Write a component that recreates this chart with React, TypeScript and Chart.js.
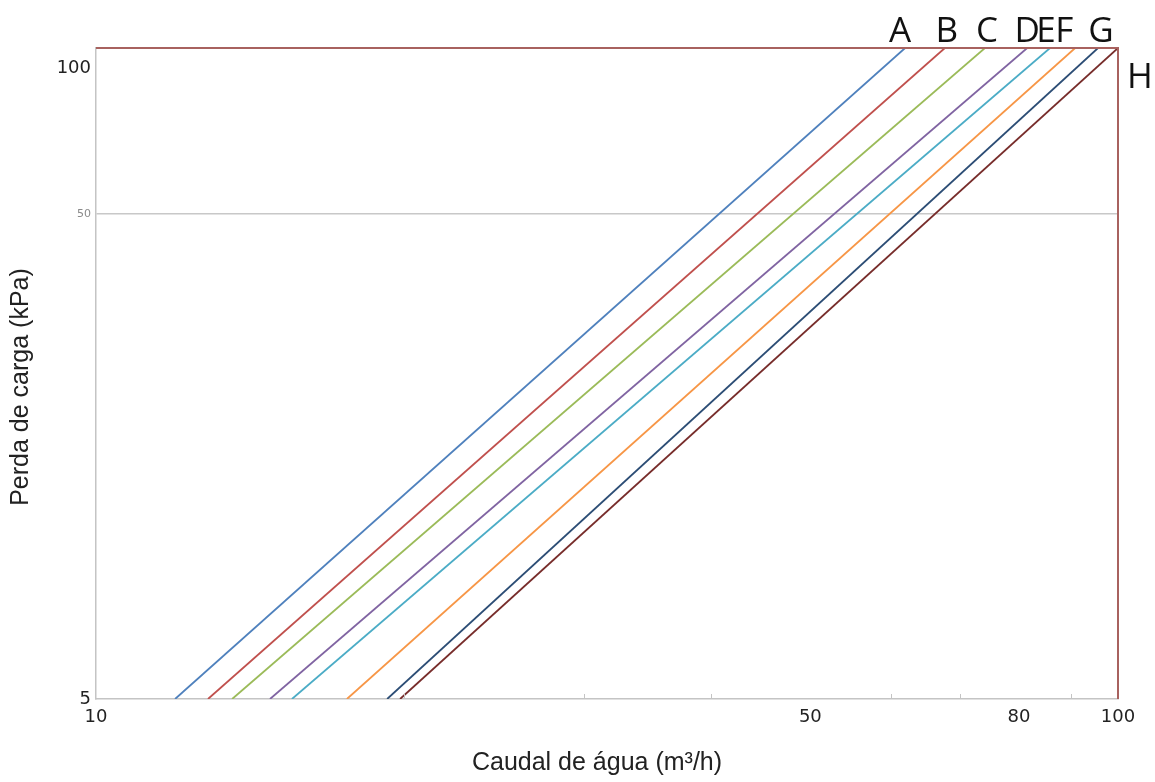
import { useEffect, useRef } from 'react';
import { Chart, registerables } from 'chart.js';

Chart.register(...registerables);

// ---- data ----
const curveNames = ['A', 'B', 'C', 'D', 'E', 'F', 'G', 'H'];
// water flow (m³/h) where each curve meets the lower edge (5 kPa)
const flowAtBottom = [11.95, 12.87, 13.59, 14.8, 15.55, 17.6, 19.27, 19.84];
// water flow (m³/h) where each curve meets the upper edge of the plot
const flowAtTop = [61.9, 67.7, 74.1, 81.5, 85.8, 90.8, 95.6, 100];
// pressure drop (kPa) at the lower and upper edge
const pressureEnds = [5, 110];
const xTickValues = [10, 50, 80, 100];
const xMinorTicks = [20, 30, 40, 60, 70, 90];
const yTickValues = [5, 50, 100];

// ---- styles ----
const W = 1155;
const H = 782;
const AREA = { left: 96, top: 48, right: 1118, bottom: 699 };
const curveColors = ['#4F81BD', '#C0504D', '#9BBB59', '#8064A2', '#4BACC6', '#F79646', '#2C4D75', '#772C2A'];
const letterDx = [-5, 2, 2, 0, -4, -11, 3, 22];
const letterDy = [-6, -6, -6, -6, -6, -6, -6, 40];

export default function App() {
  const ref = useRef<HTMLCanvasElement>(null);

  useEffect(() => {
    const canvas = ref.current;
    if (!canvas) return;

    const overlay = {
      id: 'overlay',
      afterDraw(chart: any) {
        const { ctx, chartArea: a } = chart;
        const x = chart.scales.x;
        ctx.save();
        // top and right frame
        ctx.strokeStyle = '#a8625f';
        ctx.lineWidth = 2;
        ctx.beginPath();
        ctx.moveTo(a.left, a.top);
        ctx.lineTo(a.right, a.top);
        ctx.lineTo(a.right, a.bottom);
        ctx.stroke();
        // minor ticks on the x axis
        ctx.strokeStyle = '#c4c4c4';
        ctx.lineWidth = 1;
        xMinorTicks.forEach((v) => {
          const px = Math.round(x.getPixelForValue(v)) + 0.5;
          ctx.beginPath();
          ctx.moveTo(px, a.bottom);
          ctx.lineTo(px, a.bottom - 5);
          ctx.stroke();
        });
        // curve letters
        ctx.fillStyle = '#111';
        ctx.font = '35px "Open Sans"';
        ctx.textAlign = 'center';
        ctx.textBaseline = 'alphabetic';
        curveNames.forEach((n, i) => {
          const px = x.getPixelForValue(flowAtTop[i]) + letterDx[i];
          ctx.fillText(n, px, a.top + letterDy[i]);
        });
        // axis titles
        ctx.fillStyle = '#222';
        ctx.font = '25px "Liberation Sans", Arial';
        ctx.textBaseline = 'middle';
        ctx.fillText('Caudal de água (m³/h)', 597, 763);
        ctx.translate(21, 387);
        ctx.rotate(-Math.PI / 2);
        ctx.fillText('Perda de carga (kPa)', 0, 0);
        ctx.restore();
      },
    };

    const chart = new Chart(canvas, {
      type: 'line',
      data: {
        datasets: curveNames.map((n, i) => ({
          label: n,
          data: [
            { x: flowAtBottom[i], y: pressureEnds[0] },
            { x: flowAtTop[i], y: pressureEnds[1] },
          ],
          borderColor: curveColors[i],
          borderWidth: 1.8,
          pointRadius: 0,
          fill: false,
          tension: 0,
        })),
      },
      options: {
        responsive: false,
        animation: false,
        devicePixelRatio: 1,
        layout: { padding: { left: 0, top: AREA.top, right: W - AREA.right, bottom: 0 } },
        plugins: {
          legend: { display: false },
          tooltip: { enabled: false },
        },
        scales: {
          x: {
            type: 'logarithmic',
            min: 10,
            max: 100,
            position: 'bottom',
            afterFit(s: any) {
              s.height = H - AREA.bottom;
            },
            afterBuildTicks(s: any) {
              s.ticks = xTickValues.map((v) => ({ value: v }));
            },
            ticks: {
              callback: (v: any) => String(v),
              autoSkip: false,
              maxRotation: 0,
              padding: 8,
              color: '#222',
              font: { family: 'DejaVu Sans', size: 18 },
            },
            grid: { display: false, drawTicks: false },
            border: { display: true, color: '#c4c4c4', width: 1.5 },
          },
          y: {
            type: 'logarithmic',
            min: pressureEnds[0],
            max: pressureEnds[1],
            afterFit(s: any) {
              s.width = AREA.left;
            },
            afterBuildTicks(s: any) {
              s.ticks = yTickValues.map((v) => ({ value: v }));
            },
            ticks: {
              callback: (v: any) => String(v),
              autoSkip: false,
              padding: 5,
              color: (c: any) => (c.tick && c.tick.value === 50 ? '#8a8a8a' : '#222'),
              font: (c: any) => ({ family: 'DejaVu Sans', size: c.tick && c.tick.value === 50 ? 11 : 18 }),
            },
            grid: {
              drawTicks: false,
              lineWidth: 1.5,
              color: (c: any) => (c.tick && c.tick.value === 50 ? '#c8c8c8' : 'rgba(0,0,0,0)'),
            },
            border: { display: true, color: '#c4c4c4', width: 1.5 },
          },
        },
      },
      plugins: [overlay],
    } as any);

    return () => chart.destroy();
  }, []);

  return (
    <div style={{ position: 'absolute', left: 0, top: 0, width: W, height: H, background: '#fff' }}>
      <canvas ref={ref} width={W} height={H} style={{ width: W, height: H, display: 'block' }} />
    </div>
  );
}
